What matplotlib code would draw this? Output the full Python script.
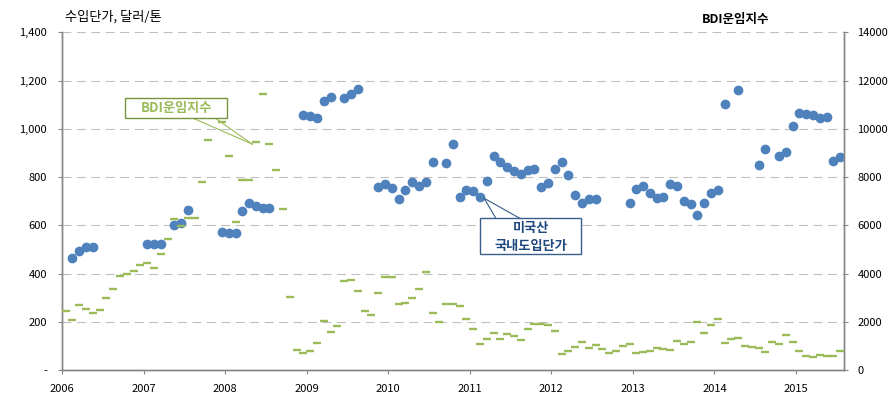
import numpy as np
import matplotlib
matplotlib.use('Agg')
import matplotlib.pyplot as plt
from matplotlib.patches import Rectangle
from matplotlib.ticker import FuncFormatter

# x axis: monthly categories, Jan 2006 .. Jul 2015
years = ['2006', '2007', '2008', '2009', '2010', '2011', '2012', '2013', '2014', '2015']

# BDI freight index (right axis), one value per month
bdi = [2460, 2090, 2710, 2540, 2380, 2500, 3000, 3370, 3910, 3990,
       4120, 4370, 4450, 4240, 4820, 5450, 6270, 5980, 6320, 6320,
       7810, 9550, 10900, 10290, 8880, 6150, 7880, 7880, 9470, 11460,
       9380, 8300, 6690, 3040, 840, 720, 800, 1130, 2050, 1590,
       1840, 3700, 3750, 3290, 2460, 2290, 3210, 3870, 3870, 2750,
       2790, 3000, 3370, 4080, 2380, 2000, 2750, 2750, 2670, 2130,
       1710, 1090, 1300, 1550, 1300, 1510, 1420, 1260, 1710, 1920,
       1920, 1880, 1630, 680, 800, 970, 1170, 930, 1050, 880,
       720, 800, 1010, 1090, 720, 760, 800, 930, 880, 840,
       1220, 1090, 1170, 2000, 1550, 1880, 2130, 1130, 1300, 1340,
       1010, 970, 930, 760, 1170, 1090, 1470, 1170, 800, 590,
       550, 640, 590, 590, 800]

# US import unit price, USD/ton (left axis), None = no import that month
price = [None, 466, 495, 511, 511, None, None, None, None, None,
         None, None, 524, 524, 524, None, 603, 611, 665, None,
         None, None, None, 573, 569, 569, 661, 694, 681, 673,
         673, None, None, None, None, 1059, 1054, 1046, 1117, 1133,
         None, 1129, 1146, 1166, None, None, 760, 773, 756, 710,
         748, 781, 764, 781, 864, None, 860, 938, 719, 748,
         744, 719, 785, 889, 864, 843, 826, 814, 831, 835,
         760, 777, 835, 864, 810, 727, 694, 710, 710, None,
         None, None, None, 694, 752, 764, 735, 714, 719, 773,
         764, 702, 690, 644, 694, 735, 748, 1104, None, 1162,
         None, None, 851, 918, None, 889, 905, 1013, 1067, 1063,
         1059, 1046, 1050, 868, 884]


def main():
    plt.rcParams['font.family'] = ['Noto Sans CJK KR', 'DejaVu Sans']

    fig = plt.figure(figsize=(8.91, 4.05), dpi=100)
    ax = fig.add_axes([0.0699, 0.0864, 0.8768, 0.8338])

    months = np.arange(len(bdi))
    price_arr = np.array([np.nan if p is None else p for p in price], dtype=float)

    # import price - blue dots
    ax.plot(months, price_arr, 'o', color='#4F81BD', ms=6, ls='none', zorder=3)
    ax.set_ylim(0, 1400)
    ax.set_yticks(range(0, 1401, 200))
    ax.yaxis.set_major_formatter(FuncFormatter(lambda v, p: '-' if v == 0 else f'{int(v):,}'))
    ax.set_xlim(-0.5, len(bdi) - 0.5)
    ax.set_xticks([12 * k - 0.5 for k in range(len(years))])
    ax.set_xticklabels(years)
    ax.yaxis.grid(True, color='#BFBFBF', ls=(0, (8, 5)), lw=0.8)
    ax.set_axisbelow(True)

    # BDI - green dashes on secondary axis
    ax2 = ax.twinx()
    ax2.plot(months, bdi, '_', color='#9BBB59', ms=6, mew=1.7, ls='none', zorder=3)
    ax2.set_ylim(0, 14000)
    ax2.set_yticks(range(0, 14001, 2000))

    for a in (ax, ax2):
        a.spines['top'].set_visible(False)
        for s in ('left', 'right', 'bottom'):
            a.spines[s].set_color('#868686')
            a.spines[s].set_linewidth(1)
    ax.tick_params(axis='both', direction='out', length=3, width=0.8,
                   color='#868686', labelsize=8, labelcolor='#000000')
    ax.tick_params(axis='y', pad=8)
    ax.tick_params(axis='x', pad=7)
    ax2.tick_params(axis='y', direction='out', length=3, width=0.8,
                    color='#868686', labelsize=8, labelcolor='#000000', pad=7)

    # callout: BDI
    green_edge = '#77933C'
    ax2.plot([17.45, 27.5], [10600, 9360], color='#9BBB59', lw=0.8, zorder=5)
    ax2.plot([21.2, 27.5], [10600, 9360], color='#9BBB59', lw=0.8, zorder=5)
    ax2.add_patch(Rectangle((8.75, 10440), 15.05, 840, facecolor='white',
                            edgecolor=green_edge, lw=1, zorder=6))
    ax2.text(16.27, 10860, 'BDI운임지수', color='#9BBB59', fontsize=9.5,
             fontweight='bold', ha='center', va='center', zorder=7)

    # callout: US import price
    blue_edge = '#385D8A'
    ax2.plot([61.6, 63.4], [7120, 6250], color=blue_edge, lw=0.8, zorder=5)
    ax2.plot([61.6, 67.1], [7120, 6250], color=blue_edge, lw=0.8, zorder=5)
    ax2.add_patch(Rectangle((61.0, 4800), 14.9, 1490, facecolor='white',
                            edgecolor=blue_edge, lw=1, zorder=6))
    ax2.text(68.45, 5880, '미국산', color='#1F497D', fontsize=9.5,
             fontweight='bold', ha='center', va='center', zorder=7)
    ax2.text(68.45, 5150, '국내도입단가', color='#1F497D', fontsize=9.5,
             fontweight='bold', ha='center', va='center', zorder=7)

    # axis titles
    fig.text(65 / 891, 1 - 17 / 405, '수입단가, 달러/톤', fontsize=9.5,
             ha='left', va='center')
    fig.text(735.5 / 891, 1 - 20 / 405, 'BDI운임지수', fontsize=9,
             fontweight='bold', ha='center', va='center')

    fig.savefig('out.png', dpi=100)


if __name__ == "__main__":
    main()
